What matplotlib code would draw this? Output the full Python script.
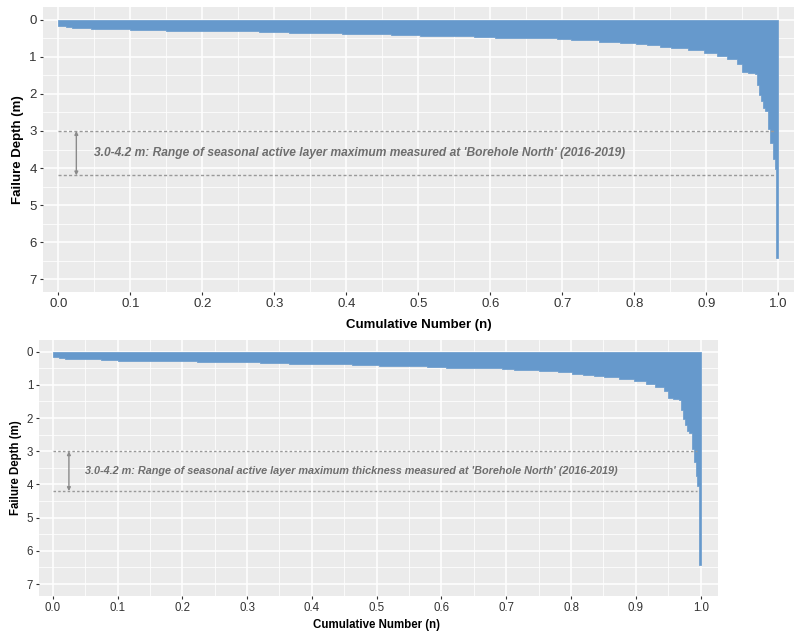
import matplotlib
matplotlib.use("Agg")
import matplotlib.pyplot as plt
from matplotlib.ticker import MultipleLocator, FixedLocator
import numpy as np

plt.rcParams['font.family'] = ['Liberation Sans', 'DejaVu Sans']

# Sorted failure depths: left edge of each step on the cumulative axis and its depth (m)
cum_start = [0.000, 0.010, 0.019, 0.045, 0.075, 0.100, 0.149, 0.223, 0.279, 0.320,
             0.364, 0.394, 0.462, 0.503, 0.545, 0.577, 0.607, 0.649, 0.693, 0.712,
             0.751, 0.780, 0.802, 0.818, 0.835, 0.851, 0.874, 0.897, 0.915, 0.929,
             0.943, 0.949, 0.958, 0.967, 0.970, 0.973, 0.976, 0.979, 0.982, 0.986,
             0.989, 0.993, 0.995, 0.997]
depth_m = [0.17, 0.20, 0.215, 0.235, 0.25, 0.27, 0.29, 0.305, 0.325, 0.34,
           0.36, 0.38, 0.40, 0.42, 0.44, 0.46, 0.48, 0.49, 0.51, 0.54,
           0.59, 0.62, 0.66, 0.69, 0.72, 0.75, 0.81, 0.89, 0.98, 1.06,
           1.19, 1.40, 1.43, 1.47, 1.76, 2.02, 2.20, 2.38, 2.46, 2.94,
           3.32, 3.75, 4.04, 6.43]
cum_end = 1.0

# Active layer range at 'Borehole North'
layer_top = 3.0
layer_bottom = 4.2

x_ticks = [0.0, 0.1, 0.2, 0.3, 0.4, 0.5, 0.6, 0.7, 0.8, 0.9, 1.0]
y_ticks = [0, 1, 2, 3, 4, 5, 6, 7]

labels = [
    "3.0-4.2 m: Range of seasonal active layer maximum measured at 'Borehole North' (2016-2019)",
    "3.0-4.2 m: Range of seasonal active layer maximum thickness measured at 'Borehole North' (2016-2019)",
]

W, H = 794, 634
fig = plt.figure(figsize=(W / 100, H / 100), dpi=100)
fig.patch.set_facecolor('white')

# panel boxes in pixels: left, top, right, bottom
panels = [
    dict(box=(43, 7, 794, 292), xlim=(-0.0213, 1.0218), fs=9.5, afs=8.65,
         ylab_x=18, xlab_y=325, dash=(0, (2.2, 1.6))),
    dict(box=(39.3, 340, 718.3, 595.7), xlim=(-0.0207, 1.0272), fs=8.3, afs=7.8,
         ylab_x=16, xlab_y=625, dash=(0, (1.8, 1.6))),
]

BAR = '#6699CC'
edges = np.array(cum_start + [cum_end])
step_depth = np.array(depth_m + [depth_m[-1]])

for p, text in zip(panels, labels):
    l, t, r, b = p['box']
    ax = fig.add_axes([l / W, (H - b) / H, (r - l) / W, (b - t) / H])
    ax.set_facecolor('#EBEBEB')
    for s in ax.spines.values():
        s.set_visible(False)

    ax.set_xlim(*p['xlim'])
    ax.set_ylim(7.35, -0.35)
    ax.xaxis.set_major_locator(FixedLocator(x_ticks))
    ax.xaxis.set_minor_locator(MultipleLocator(0.05))
    ax.yaxis.set_major_locator(FixedLocator(y_ticks))
    ax.yaxis.set_minor_locator(MultipleLocator(0.5))
    ax.set_xticklabels([f"{v:.1f}" for v in x_ticks])
    ax.set_yticklabels([str(v) for v in y_ticks])
    ax.grid(which='major', color='white', linewidth=1.1)
    ax.grid(which='minor', color='white', linewidth=0.55)
    ax.set_axisbelow(True)
    ax.tick_params(which='major', length=2.5, width=0.8, color='#333333',
                   labelsize=p['fs'], labelcolor='#333333', pad=2)
    ax.tick_params(which='minor', length=0)

    # one column per failure, from the surface down to its depth
    ax.fill_between(edges, 0, step_depth, step='post', facecolor=BAR,
                    edgecolor=BAR, linewidth=0.5, zorder=2)

    for yv in (layer_top, layer_bottom):
        ax.plot([0.0, 0.995], [yv, yv], color='#999999', linewidth=1.0,
                linestyle=p['dash'], zorder=3)

    ax.annotate('', xy=(0.025, layer_top), xytext=(0.025, layer_bottom),
                arrowprops=dict(arrowstyle='<|-|>', color='#8A8A8A', lw=1.0,
                                mutation_scale=5, shrinkA=0, shrinkB=0),
                zorder=3)
    ax.text(0.05, (layer_top + layer_bottom) / 2, text, fontsize=p['afs'],
            fontweight='bold', fontstyle='italic', color='#6E6E6E',
            ha='left', va='center', zorder=4)

    fig.text(p['ylab_x'] / W, 1 - ((t + b) / 2) / H, 'Failure Depth (m)',
             rotation=90, ha='center', va='center', fontsize=p['fs'],
             fontweight='bold', color='black')
    # x-axis title centred over the data span
    xl = ax.transData.transform((0.5, 0))[0] / fig.dpi / (W / 100)
    fig.text(xl, 1 - p['xlab_y'] / H, 'Cumulative Number (n)', ha='center',
             va='center', fontsize=p['fs'], fontweight='bold', color='black')

fig.savefig('out.png', dpi=100, facecolor='white')
